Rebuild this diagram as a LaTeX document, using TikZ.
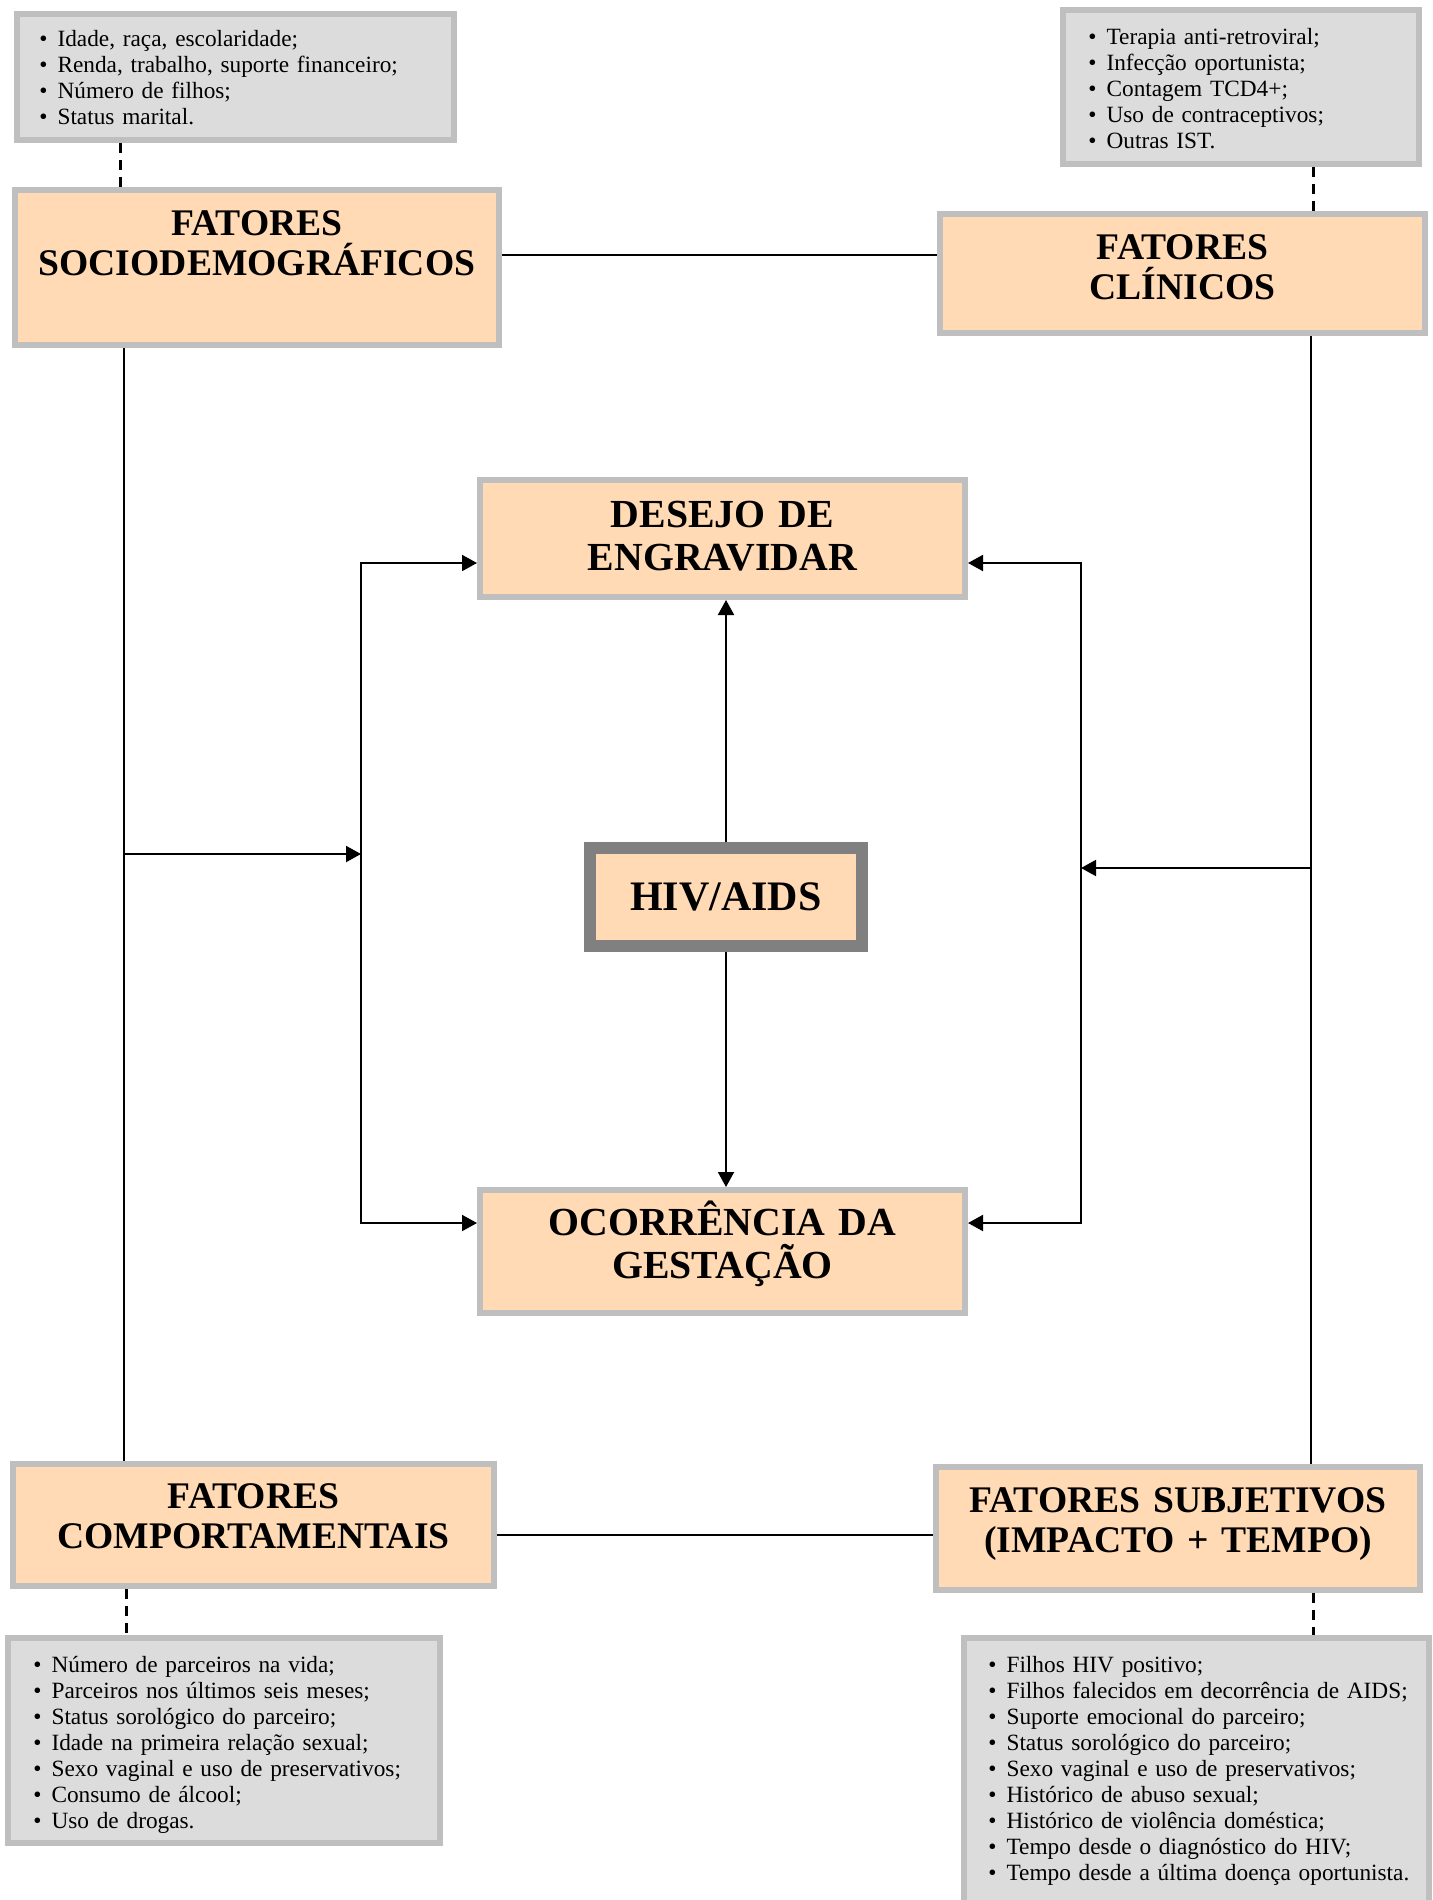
\documentclass[tikz,border=0pt]{standalone}
\usepackage{fontspec}
\setmainfont{Liberation Serif}
\usetikzlibrary{arrows.meta}
\definecolor{peach}{RGB}{255,218,180}
\definecolor{boxgray}{RGB}{191,191,191}
\definecolor{listfill}{RGB}{220,220,220}
\definecolor{hivgray}{RGB}{128,128,128}
\newcommand{\lbul}{\textbullet\hspace{5pt}}
\tikzset{
  fbox/.style={draw=boxgray, line width=3pt, fill=peach, inner sep=0pt},
  lbox/.style={draw=boxgray, line width=3pt, fill=listfill, inner sep=0pt},
  ttl/.style={font=\fontsize{18.8pt}{20pt}\selectfont\bfseries, text width=240pt, align=center, anchor=base, inner sep=0pt},
  cttl/.style={ttl, font=\fontsize{19.9pt}{21.5pt}\selectfont\bfseries},
  lst/.style={font=\fontsize{11.65pt}{13pt}\selectfont, text width=232pt, align=left, anchor=base west, inner sep=0pt},
  conn/.style={line width=1pt, black},
  arr/.style={conn, -{Triangle[length=7.5pt,width=8pt]}},
  arrtwo/.style={conn, {Triangle[length=7.5pt,width=8pt]}-{Triangle[length=7.5pt,width=8pt]}},
  dsh/.style={line width=1.5pt, black, dash pattern=on 5pt off 3.5pt},
}
\begin{document}
\begin{tikzpicture}[x=0.5pt,y=-0.5pt]
\useasboundingbox (0,0) rectangle (1432,1900);
\clip (0,0) rectangle (1432,1900);

% boxes
\node[lbox, minimum width=218.5pt, minimum height=63pt] (socL) at (235.5,77) {};
\node[fbox, minimum width=242pt, minimum height=77.5pt] (socio) at (257,267.5) {};
\node[lbox, minimum width=178pt, minimum height=77pt] (clinL) at (1241,87) {};
\node[fbox, minimum width=242.5pt, minimum height=59.5pt] (clin) at (1182.5,273.5) {};
\node[fbox, minimum width=242.5pt, minimum height=58.5pt] (desejo) at (722.5,538.5) {};
\node[draw=hivgray, line width=6pt, fill=peach, inner sep=0pt, minimum width=136pt, minimum height=49pt,
      font=\fontsize{21pt}{22pt}\selectfont\bfseries] (hiv) at (726,897) {HIV/AIDS};
\node[fbox, minimum width=242.5pt, minimum height=61.5pt] (ocor) at (722.5,1251.5) {};
\node[fbox, minimum width=240.5pt, minimum height=61pt] (comp) at (253.5,1525) {};
\node[lbox, minimum width=216pt, minimum height=102.5pt] (compL) at (224,1740.5) {};
\node[fbox, minimum width=242pt, minimum height=61.5pt] (subj) at (1178,1528.5) {};
\node[lbox, minimum width=232.5pt, minimum height=134.5pt] (subjL) at (1196.5,1772.5) {};

% titles
\node[ttl, yshift=-24pt] (socioT) at (socio.north) {FATORES\\SOCIODEMOGRÁFICOS};
\node[ttl, yshift=-24pt] (clinT) at (clin.north) {FATORES\\CLÍNICOS};
\node[cttl, yshift=-25pt] (desejoT) at (desejo.north) {DESEJO DE\\ENGRAVIDAR};
\node[cttl, yshift=-24pt] (ocorT) at (ocor.north) {OCORRÊNCIA DA\\GESTAÇÃO};
\node[ttl, yshift=-23.5pt] (compT) at (comp.north) {FATORES\\COMPORTAMENTAIS};
\node[ttl, yshift=-24pt] (subjT) at (subj.north) {FATORES SUBJETIVOS\\(IMPACTO + TEMPO)};

% lists
\node[lst, xshift=12.5pt, yshift=-18pt] (socLT) at (socL.north west) {%
\lbul Idade, raça, escolaridade;\\
\lbul Renda, trabalho, suporte financeiro;\\
\lbul Número de filhos;\\
\lbul Status marital.};
\node[lst, xshift=14pt, yshift=-19pt] (clinLT) at (clinL.north west) {%
\lbul Terapia anti-retroviral;\\
\lbul Infecção oportunista;\\
\lbul Contagem TCD4+;\\
\lbul Uso de contraceptivos;\\
\lbul Outras IST.};
\node[lst, xshift=14pt, yshift=-18.5pt] (compLT) at (compL.north west) {%
\lbul Número de parceiros na vida;\\
\lbul Parceiros nos últimos seis meses;\\
\lbul Status sorológico do parceiro;\\
\lbul Idade na primeira relação sexual;\\
\lbul Sexo vaginal e uso de preservativos;\\
\lbul Consumo de álcool;\\
\lbul Uso de drogas.};
\node[lst, xshift=13.5pt, yshift=-18.5pt] (subjLT) at (subjL.north west) {%
\lbul Filhos HIV positivo;\\
\lbul Filhos falecidos em decorrência de AIDS;\\
\lbul Suporte emocional do parceiro;\\
\lbul Status sorológico do parceiro;\\
\lbul Sexo vaginal e uso de preservativos;\\
\lbul Histórico de abuso sexual;\\
\lbul Histórico de violência doméstica;\\
\lbul Tempo desde o diagnóstico do HIV;\\
\lbul Tempo desde a última doença oportunista.};

% helper coordinates
\coordinate (xd1) at (120,0);
\coordinate (xd2) at (1313,0);
\coordinate (xd3) at (126,0);
\coordinate (xl) at (124,0);
\coordinate (xr) at (1311,0);
\coordinate (yh1) at (0,255);
\coordinate (yh2) at (0,1535);
\coordinate (jl) at (124,854);
\coordinate (vl) at (361,854);
\coordinate (vlt) at (361,563);
\coordinate (vlb) at (361,1223);
\coordinate (jr) at (1311,868);
\coordinate (vr) at (1081,868);
\coordinate (vrt) at (1081,563);
\coordinate (vrb) at (1081,1223);

% dashed links
\draw[dsh] (socL.south -| xd1) -- (socio.north -| xd1);
\draw[dsh] (clinL.south -| xd2) -- (clin.north -| xd2);
\draw[dsh] (comp.south -| xd3) -- (compL.north -| xd3);
\draw[dsh] (subj.south -| xd2) -- (subjL.north -| xd2);

% frame lines
\draw[conn] (socio.east |- yh1) -- (clin.west |- yh1);
\draw[conn] (socio.south -| xl) -- (comp.north -| xl);
\draw[conn] (clin.south -| xr) -- (subj.north -| xr);
\draw[conn] (comp.east |- yh2) -- (subj.west |- yh2);

% branches
\draw[arr] (jl) -- (vl);
\draw[arrtwo] (desejo.west |- vlt) -- (vlt) -- (vlb) -- (ocor.west |- vlb);
\draw[arr] (jr) -- (vr);
\draw[arrtwo] (desejo.east |- vrt) -- (vrt) -- (vrb) -- (ocor.east |- vrb);

% HIV arrows
\draw[arr] (hiv.north) -- (desejo.south -| hiv.north);
\draw[arr] (hiv.south) -- (ocor.north -| hiv.south);
\end{tikzpicture}
\end{document}
